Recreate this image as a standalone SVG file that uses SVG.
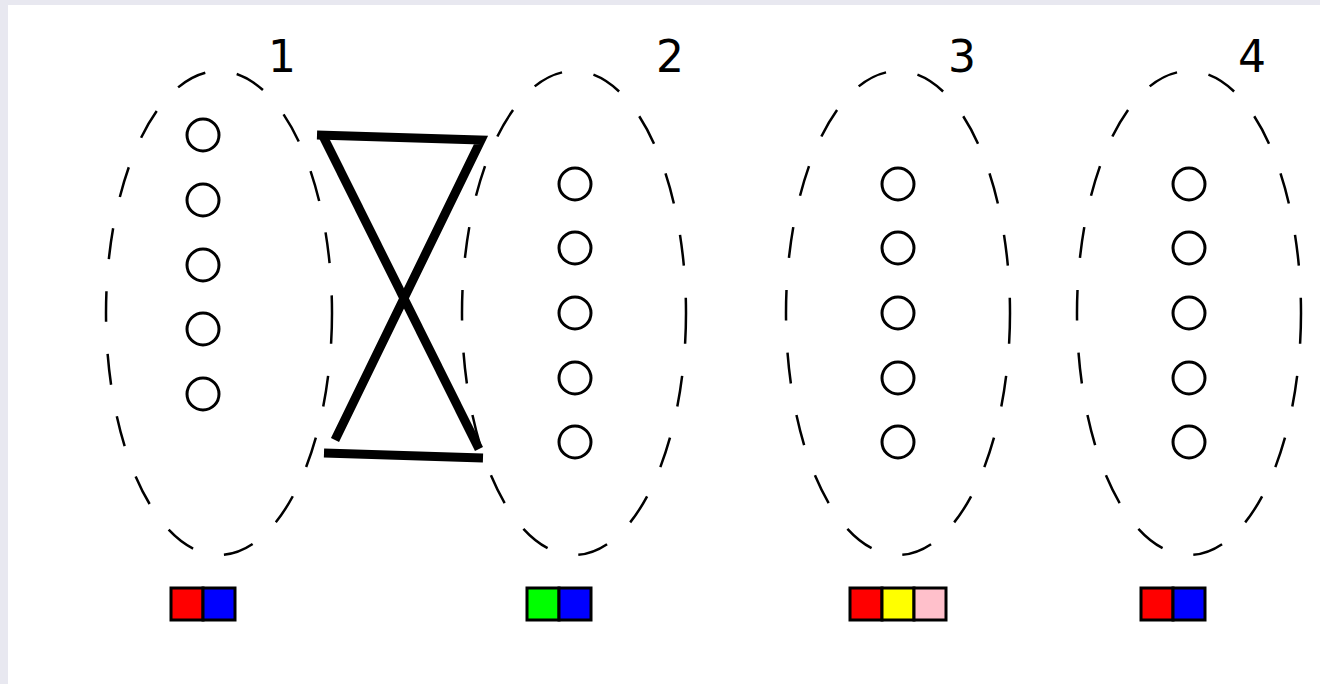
<svg xmlns="http://www.w3.org/2000/svg" width="1320" height="684" viewBox="0 0 1320 684">
<style>
.grp{fill:none;stroke:#000;stroke-width:2.5;stroke-dasharray:31,32}
.nd{fill:#fff;stroke:#000;stroke-width:3}
.lbl{font-family:"DejaVu Sans",sans-serif;font-size:44px;fill:#000;text-anchor:middle}
.sq{stroke:#000;stroke-width:3}
.edge{fill:none;stroke:#000;stroke-width:9;stroke-linejoin:miter}
</style>
<rect x="0" y="0" width="1320" height="684" fill="#e8e8f0"/>
<rect x="8" y="5" width="1312" height="679" fill="#fff"/>
<g id="group1">
<ellipse class="grp" cx="219" cy="313" rx="113" ry="242"/>
<text class="lbl" x="282" y="72">1</text>
<circle class="nd" cx="203" cy="135" r="16"/>
<circle class="nd" cx="203" cy="200" r="16"/>
<circle class="nd" cx="203" cy="265" r="16"/>
<circle class="nd" cx="203" cy="329" r="16"/>
<circle class="nd" cx="203" cy="394" r="16"/>
<rect class="sq" x="171" y="588" width="32" height="32" fill="#ff0000"/>
<rect class="sq" x="203" y="588" width="32" height="32" fill="#0000ff"/>
</g>
<g id="group2">
<ellipse class="grp" cx="574" cy="313" rx="112" ry="242"/>
<text class="lbl" x="670" y="72">2</text>
<circle class="nd" cx="575" cy="184" r="16"/>
<circle class="nd" cx="575" cy="248" r="16"/>
<circle class="nd" cx="575" cy="313" r="16"/>
<circle class="nd" cx="575" cy="378" r="16"/>
<circle class="nd" cx="575" cy="442" r="16"/>
<rect class="sq" x="527" y="588" width="32" height="32" fill="#00ff00"/>
<rect class="sq" x="559" y="588" width="32" height="32" fill="#0000ff"/>
</g>
<g id="group3">
<ellipse class="grp" cx="898" cy="313" rx="112" ry="242"/>
<text class="lbl" x="962" y="72">3</text>
<circle class="nd" cx="898" cy="184" r="16"/>
<circle class="nd" cx="898" cy="248" r="16"/>
<circle class="nd" cx="898" cy="313" r="16"/>
<circle class="nd" cx="898" cy="378" r="16"/>
<circle class="nd" cx="898" cy="442" r="16"/>
<rect class="sq" x="850" y="588" width="32" height="32" fill="#ff0000"/>
<rect class="sq" x="882" y="588" width="32" height="32" fill="#ffff00"/>
<rect class="sq" x="914" y="588" width="32" height="32" fill="#ffc0cb"/>
</g>
<g id="group4">
<ellipse class="grp" cx="1189" cy="313" rx="112" ry="242"/>
<text class="lbl" x="1252" y="72">4</text>
<circle class="nd" cx="1189" cy="184" r="16"/>
<circle class="nd" cx="1189" cy="248" r="16"/>
<circle class="nd" cx="1189" cy="313" r="16"/>
<circle class="nd" cx="1189" cy="378" r="16"/>
<circle class="nd" cx="1189" cy="442" r="16"/>
<rect class="sq" x="1141" y="588" width="32" height="32" fill="#ff0000"/>
<rect class="sq" x="1173" y="588" width="32" height="32" fill="#0000ff"/>
</g>
<g id="connectors">
<polyline class="edge" points="335,440 481,140 317,135"/>
<line class="edge" x1="323" y1="136" x2="479" y2="449"/>
<line class="edge" x1="324" y1="453" x2="483" y2="458"/>
</g>
</svg>
